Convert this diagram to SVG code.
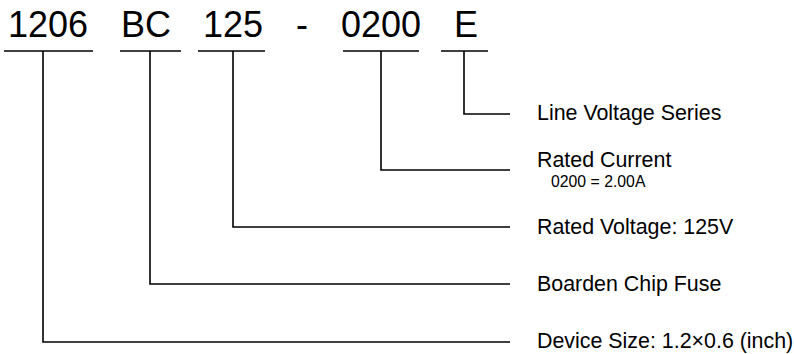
<svg xmlns="http://www.w3.org/2000/svg" width="794" height="354" viewBox="0 0 794 354">
<style>
.code{font-family:"Liberation Sans",Arial,sans-serif;font-size:36px;fill:#000}
.lbl{font-family:"Liberation Sans",Arial,sans-serif;font-size:21.4px;fill:#000}
.sub{font-family:"Liberation Sans",Arial,sans-serif;font-size:15.8px;fill:#000}
.ln{stroke:#000;stroke-width:1.6;fill:none}
</style>
<rect width="794" height="354" fill="#fff"/>
<g id="code-1206"><text class="code" x="8" y="37">1206</text><line class="ln" x1="4" y1="51" x2="93" y2="51"/></g>
<g id="code-BC"><text class="code" x="121" y="37">BC</text><line class="ln" x1="120" y1="51" x2="181" y2="51"/></g>
<g id="code-125"><text class="code" x="203" y="37">125</text><line class="ln" x1="198" y1="51" x2="265" y2="51"/></g>
<g id="code-dash"><text class="code" x="296" y="37">-</text></g>
<g id="code-0200"><text class="code" x="341" y="37">0200</text><line class="ln" x1="343" y1="51" x2="419" y2="51"/></g>
<g id="code-E"><text class="code" x="454" y="37">E</text><line class="ln" x1="441" y1="51" x2="488" y2="51"/></g>
<g id="label-series"><text class="lbl" x="537" y="120">Line Voltage Series</text></g>
<g id="label-current"><text class="lbl" x="537" y="167">Rated Current</text><text class="sub" x="551" y="187">0200 = 2.00A</text></g>
<g id="label-voltage"><text class="lbl" x="537" y="234">Rated Voltage: 125V</text></g>
<g id="label-fuse"><text class="lbl" x="537" y="291">Boarden Chip Fuse</text></g>
<g id="label-size"><text class="lbl" x="537" y="348">Device Size: 1.2×0.6 (inch)</text></g>
<g id="connectors">
<polyline class="ln" points="464,51 464,114 510,114"/>
<polyline class="ln" points="381,51 381,170 510,170"/>
<polyline class="ln" points="233,51 233,227 510,227"/>
<polyline class="ln" points="150,51 150,284 510,284"/>
<polyline class="ln" points="43,51 43,342 510,342"/>
</g>
</svg>
